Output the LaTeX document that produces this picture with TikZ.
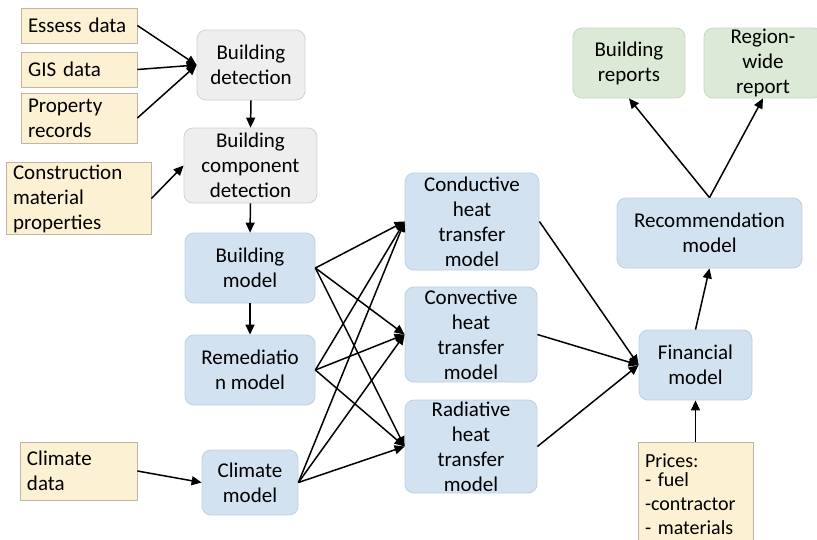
\documentclass[tikz,border=0pt]{standalone}
\usepackage{fontspec}
\setmainfont{Carlito}
\usetikzlibrary{arrows.meta}
\definecolor{yfill}{HTML}{FCF1D2}
\definecolor{ydraw}{HTML}{BDB7A6}
\definecolor{gfill}{HTML}{EEEEEE}
\definecolor{gdraw}{HTML}{D2D2D2}
\definecolor{bfill}{HTML}{D3E2F1}
\definecolor{bdraw}{HTML}{C0CFDF}
\definecolor{grfill}{HTML}{DCE9D6}
\definecolor{grdraw}{HTML}{C9D6C4}
\tikzset{
  base/.style={font=\fontsize{21}{25}\selectfont, inner sep=2pt, line width=0.8pt},
  inbox/.style={base, draw=ydraw, fill=yfill},
  graybox/.style={base, draw=gdraw, fill=gfill, rounded corners=9pt, align=center},
  bluebox/.style={base, draw=bdraw, fill=bfill, rounded corners=9pt, align=center},
  greenbox/.style={base, draw=grdraw, fill=grfill, rounded corners=9pt, align=center},
  conn/.style={line width=1.5pt, -{Triangle[length=10pt,width=9pt]}}
}
\begin{document}
\begin{tikzpicture}[x=1pt,y=-1pt]
\useasboundingbox[fill=white] (0,0) rectangle (817,539);
% inputs
\node[inbox, minimum width=116pt, minimum height=35pt, align=left, text width=102pt] (ess) at (79,25.5) {Essess data};
\node[inbox, minimum width=116pt, minimum height=35pt, align=left, text width=102pt] (gis) at (79,69.5) {GIS data};
\node[inbox, minimum width=116pt, minimum height=50pt, align=left, text width=102pt] (prop) at (79,118) {Property\\records};
\node[inbox, minimum width=145pt, minimum height=71pt, align=left, text width=131pt] (cons) at (78.5,198.5) {Construction\\material\\properties};
\node[inbox, minimum width=117pt, minimum height=58pt, align=left, text width=103pt] (cdat) at (78.5,471) {Climate\\data};
\node[inbox, font=\fontsize{20}{24}\selectfont, minimum width=115pt, minimum height=104pt, align=left, text width=101pt, anchor=north] (price) at (695.5,442) {\vspace*{-5pt}Prices:\\- fuel\\-contractor\\- materials};
% process
\node[graybox, minimum width=108pt, minimum height=70pt] (bdet) at (251,65) {Building\\detection};
\node[graybox, minimum width=133pt, minimum height=75pt] (bcomp) at (250.5,165.5) {Building\\component\\detection};
\node[bluebox, minimum width=130pt, minimum height=70pt] (bmod) at (250,268) {Building\\model};
\node[bluebox, minimum width=130pt, minimum height=70pt] (rem) at (250,370) {Remediatio\\n model};
\node[bluebox, minimum width=96pt, minimum height=65pt] (cmod) at (250,482.5) {Climate\\model};
\node[bluebox, minimum width=134pt, minimum height=97pt, inner sep=0pt] (cond) at (472,221.5) {Conductive\\heat\\transfer\\model};
\node[bluebox, minimum width=132pt, minimum height=95pt, inner sep=0pt] (conv) at (471,334.5) {Convective\\heat\\transfer\\model};
\node[bluebox, minimum width=132pt, minimum height=93pt, inner sep=0pt] (rad) at (471,446.5) {Radiative\\heat\\transfer\\model};
\node[bluebox, minimum width=113pt, minimum height=70pt] (fin) at (695.5,365) {Financial\\model};
\node[bluebox, minimum width=185pt, minimum height=70pt] (rec) at (709.5,233) {Recommendation\\model};
\node[greenbox, minimum width=112pt, minimum height=70pt] (brep) at (629,63) {Building\\reports};
\node[greenbox, minimum width=118pt, minimum height=70pt, inner sep=0pt] (reg) at (763,63) {Region-\\wide\\report};
% connectors
\draw[conn] (ess.east) -- (bdet.west);
\draw[conn] (gis.east) -- (bdet.west);
\draw[conn] (prop.east) -- (bdet.west);
\draw[conn] (bdet.south) -- (bcomp.north);
\draw[conn] (cons.east) -- (bcomp.west);
\draw[conn] (bcomp.south) -- (bmod.north);
\draw[conn] (bmod.south) -- (rem.north);
\draw[conn] (cdat.east) -- (cmod.west);
\foreach \s in {bmod,rem,cmod}{
  \foreach \t in {cond,conv,rad}{
    \draw[conn] (\s.east) -- (\t.west);
  }
}
\draw[conn] (cond.east) -- (fin.west);
\draw[conn] (conv.east) -- (fin.west);
\draw[conn] (rad.east) -- (fin.west);
\draw[conn] (price.north) -- (fin.south);
\draw[conn] (fin.north) -- (rec.south);
\draw[conn] (rec.north) -- (brep.south);
\draw[conn] (rec.north) -- (reg.south);
\end{tikzpicture}
\end{document}
